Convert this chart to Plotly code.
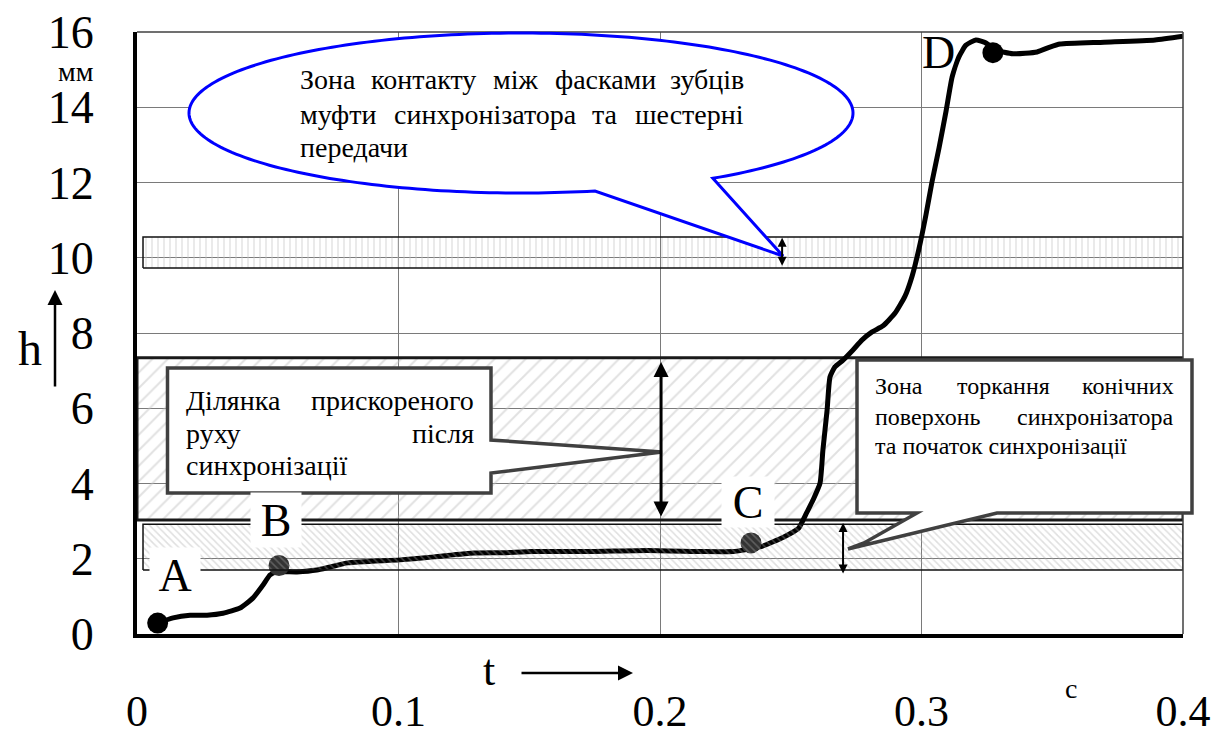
import numpy as np
import plotly.graph_objects as go

# ---------------- data ----------------
t = [0.0079, 0.0138, 0.0203, 0.0268, 0.0329, 0.0394, 0.0444, 0.0482, 0.0509, 0.0535,
     0.0612, 0.0688, 0.0738, 0.0807, 0.1006, 0.1136, 0.1289, 0.140, 0.151, 0.173,
     0.195, 0.217, 0.228, 0.232, 0.2386, 0.2474, 0.253, 0.256, 0.2585, 0.2612,
     0.2623, 0.2639, 0.265, 0.2669, 0.270, 0.2738, 0.2772, 0.2811, 0.2853, 0.2899,
     0.2937, 0.2964, 0.299, 0.3017, 0.304, 0.3067, 0.3094, 0.3117, 0.3143, 0.317,
     0.3208, 0.3247, 0.3285, 0.335, 0.3442, 0.3491, 0.353, 0.3698, 0.3893, 0.4]
h = [0.29, 0.43, 0.50, 0.50, 0.55, 0.69, 0.96, 1.30, 1.57, 1.65,
     1.65, 1.70, 1.78, 1.89, 1.97, 2.05, 2.15, 2.16, 2.19, 2.19,
     2.22, 2.19, 2.19, 2.23, 2.32, 2.58, 2.81, 3.21, 3.56, 4.01,
     4.89, 5.95, 6.83, 7.10, 7.28, 7.55, 7.81, 8.03, 8.19, 8.53,
     8.98, 9.51, 10.23, 11.14, 12.01, 12.92, 13.90, 14.80, 15.34, 15.65,
     15.79, 15.71, 15.52, 15.42, 15.47, 15.60, 15.68, 15.73, 15.79, 15.89]

point_names = ["A", "B", "C", "D"]
point_t = [0.0079, 0.0543, 0.2348, 0.3273]
point_h = [0.29, 1.82, 2.42, 15.45]

# zones: contact of chamfers, accelerated motion, cone touching
band_t0 = [0.0023, 0.0, 0.0023]
band_t1 = [0.4, 0.4, 0.4]
band_lo = [9.73, 3.03, 1.70]
band_hi = [10.55, 7.34, 2.92]

x_ticks = [0, 0.1, 0.2, 0.3, 0.4]
x_ticktext = ["0", "0.1", "0.2", "0.3", "0.4"]
y_ticks = [0, 2, 4, 6, 8, 10, 12, 14, 16]
y_ticktext = ["0", "2", "4", "6", "8", "10", "12", "14", "16"]

# ---------------- layout helpers ----------------
W, H = 1226, 729
L, R, T, B = 137, 1183, 32, 634
SERIF = "Liberation Serif"
TICKF = "Liberation Serif"


def PX(x):
    return (x - L) / (R - L)


def PY(y):
    return (B - y) / (B - T)


fig = go.Figure()


def band(i, shape, fg, size, sol, lw, lc):
    x0, x1 = band_t0[i], band_t1[i]
    y0, y1 = band_lo[i], band_hi[i]
    return go.Scatter(
        x=[x0, x1, x1, x0, x0], y=[y0, y0, y1, y1, y0], mode="lines",
        fill="toself", fillcolor="rgba(0,0,0,0)",
        fillpattern=dict(shape=shape, fgcolor=fg, bgcolor="rgba(255,255,255,0)",
                         size=size, solidity=sol),
        line=dict(color=lc, width=lw), hoverinfo="skip", showlegend=False,
        cliponaxis=False)


fig.add_trace(band(1, "/", "#c4c4c4", 11, 0.18, 3, "#1a1a1a"))
fig.add_trace(band(0, "|", "#c8c8c8", 6, 0.25, 1.5, "#111111"))

fig.add_trace(go.Scatter(x=t, y=h, mode="lines",
                         line=dict(color="black", width=5, shape="spline", smoothing=0.5),
                         hoverinfo="skip", showlegend=False))
fig.add_trace(go.Scatter(x=point_t, y=point_h, mode="markers",
                         marker=dict(size=21, color=["black", "#333333", "#333333", "black"],
                                     line=dict(width=0)),
                         hoverinfo="skip", showlegend=False))

fig.add_trace(band(2, "\\", "rgba(170,170,170,0.75)", 5, 0.3, 1.5, "#111111"))

# ---------------- shapes ----------------
shapes = []
# top & right thin border
shapes.append(dict(type="line", xref="paper", yref="paper", x0=0, x1=1, y0=1, y1=1,
                   line=dict(color="#404040", width=1.5)))
shapes.append(dict(type="line", xref="paper", yref="paper", x0=1, x1=1, y0=0, y1=1,
                   line=dict(color="#404040", width=1.5)))


def path_from(pts):
    return "M " + " L ".join(f"{PX(x):.5f},{PY(y):.5f}" for x, y in pts) + " Z"


# blue ellipse callout
cx, cy, rx, ry = 521, 113, 332, 80
th2 = np.arctan2((178 - cy) / ry, (712 - cx) / rx)
th1 = np.arctan2((191 - cy) / ry, (595 - cx) / rx)
ths = np.linspace(th2, th1 - 2 * np.pi, 240)
ell = [(cx + rx * np.cos(a), cy + ry * np.sin(a)) for a in ths] + [(783, 256)]
shapes.append(dict(type="path", xref="paper", yref="paper", path=path_from(ell),
                   fillcolor="white", line=dict(color="#0000ff", width=3)))

# rectangle callout 2
c2 = [(167.5, 368), (491, 368), (491, 440), (662, 452), (491, 473), (491, 493), (167.5, 493)]
shapes.append(dict(type="path", xref="paper", yref="paper", path=path_from(c2),
                   fillcolor="white", line=dict(color="#404040", width=3.5)))

# rectangle callout 3
c3 = [(857, 360), (1192, 360), (1192, 513), (997, 513), (848, 549), (864, 543),
      (917, 513), (857, 513)]
shapes.append(dict(type="path", xref="paper", yref="paper", path=path_from(c3),
                   fillcolor="white", line=dict(color="#404040", width=3.5)))

# ---------------- annotations ----------------
ann = []


def txt(x, y, s, size, xanchor="center", yanchor="middle", **kw):
    d = dict(x=PX(x), y=PY(y), xref="paper", yref="paper", text=s, showarrow=False,
             xanchor=xanchor, yanchor=yanchor,
             font=dict(family=SERIF, size=size, color="black"))
    d.update(kw)
    ann.append(d)


# ellipse text (justified)
for y, words in [(80, [("Зона", 298, "left"), ("контакту", 369, "left"), ("між", 491, "left"),
                       ("фасками", 553, "left"), ("зубців", 746, "right")]),
                 (114, [("муфти", 298, "left"), ("синхронізатора", 392, "left"), ("та", 590, "left"),
                        ("шестерні", 746, "right")]),
                 (147, [("передачи", 298, "left")])]:
    for w, x, a in words:
        txt(x, y, w, 28, xanchor=a)

# callout 2 text
for y, words in [(400, [("Ділянка", 184, "left"), ("прискореного", 476, "right")]),
                 (433, [("руху", 184, "left"), ("після", 476, "right")]),
                 (466, [("синхронізації", 184, "left")])]:
    for w, x, a in words:
        txt(x, y, w, 28, xanchor=a)

# callout 3 text
for y, words in [(386, [("Зона", 873, "left"), ("торкання", 955, "left"), ("конічних", 1176, "right")]),
                 (417, [("поверхонь", 873, "left"), ("синхронізатора", 1176, "right")]),
                 (446, [("та початок синхронізації", 873, "left")])]:
    for w, x, a in words:
        txt(x, y, w, 24, xanchor=a)

# point labels
txt(175, 575, point_names[0], 46, bgcolor="white", width=50, height=54, borderpad=0)
txt(276, 520, point_names[1], 46, bgcolor="white", width=50, height=54, borderpad=0)
txt(748, 502, point_names[2], 46, bgcolor="white", width=52, height=50, borderpad=0)
txt(938, 52, point_names[3], 46)

# axis decorations
txt(76, 71, "мм", 28)
txt(30, 348, "h", 48)
txt(489, 670, "t", 44)
txt(1071, 688, "c", 28)

# axis arrows
ann.append(dict(x=PX(55), y=PY(290), xref="paper", yref="paper", ax=0, ay=98,
                axref="pixel", ayref="pixel", text="", showarrow=True,
                arrowhead=2, arrowsize=1.2, arrowwidth=2.5, arrowcolor="black"))
ann.append(dict(x=PX(633), y=PY(673), xref="paper", yref="paper", ax=-113, ay=0,
                axref="pixel", ayref="pixel", text="", showarrow=True,
                arrowhead=2, arrowsize=1.2, arrowwidth=2.5, arrowcolor="black"))

# double arrows marking zone heights
arrow_t = [0.2467, 0.2004, 0.270]
arrow_lo = [9.75, 3.08, 1.57]
arrow_hi = [10.53, 7.23, 2.95]
for i in range(3):
    ann.append(dict(x=arrow_t[i], y=arrow_hi[i], xref="x", yref="y",
                    ax=arrow_t[i], ay=arrow_lo[i], axref="x", ayref="y",
                    text="", showarrow=True, arrowside="end+start",
                    arrowhead=2, startarrowhead=2,
                    arrowsize=1.0 if i == 1 else 0.9, startarrowsize=1.0 if i == 1 else 0.9,
                    arrowwidth=3 if i == 1 else 2, arrowcolor="black"))

fig.update_layout(
    width=W, height=H,
    margin=dict(l=L, r=W - R, t=T, b=H - B, pad=0, autoexpand=False),
    paper_bgcolor="white", plot_bgcolor="white",
    showlegend=False,
    shapes=shapes, annotations=ann,
    xaxis=dict(range=[0, 0.4], tickmode="array", tickvals=x_ticks, ticktext=x_ticktext,
               showgrid=True, gridcolor="#7a7a7a", gridwidth=1, zeroline=False,
               showline=True, linecolor="black", linewidth=4, ticks="",
               tickfont=dict(family=TICKF, size=44, color="black"),
               ticklabelstandoff=35, automargin=False),
    yaxis=dict(range=[0, 16], tickmode="array", tickvals=y_ticks, ticktext=y_ticktext,
               showgrid=True, gridcolor="#7a7a7a", gridwidth=1, zeroline=False,
               showline=True, linecolor="black", linewidth=4, ticks="",
               tickfont=dict(family=TICKF, size=46, color="black"),
               ticklabelstandoff=30, automargin=False),
)

fig.write_html("out.html", config={"displayModeBar": False})
